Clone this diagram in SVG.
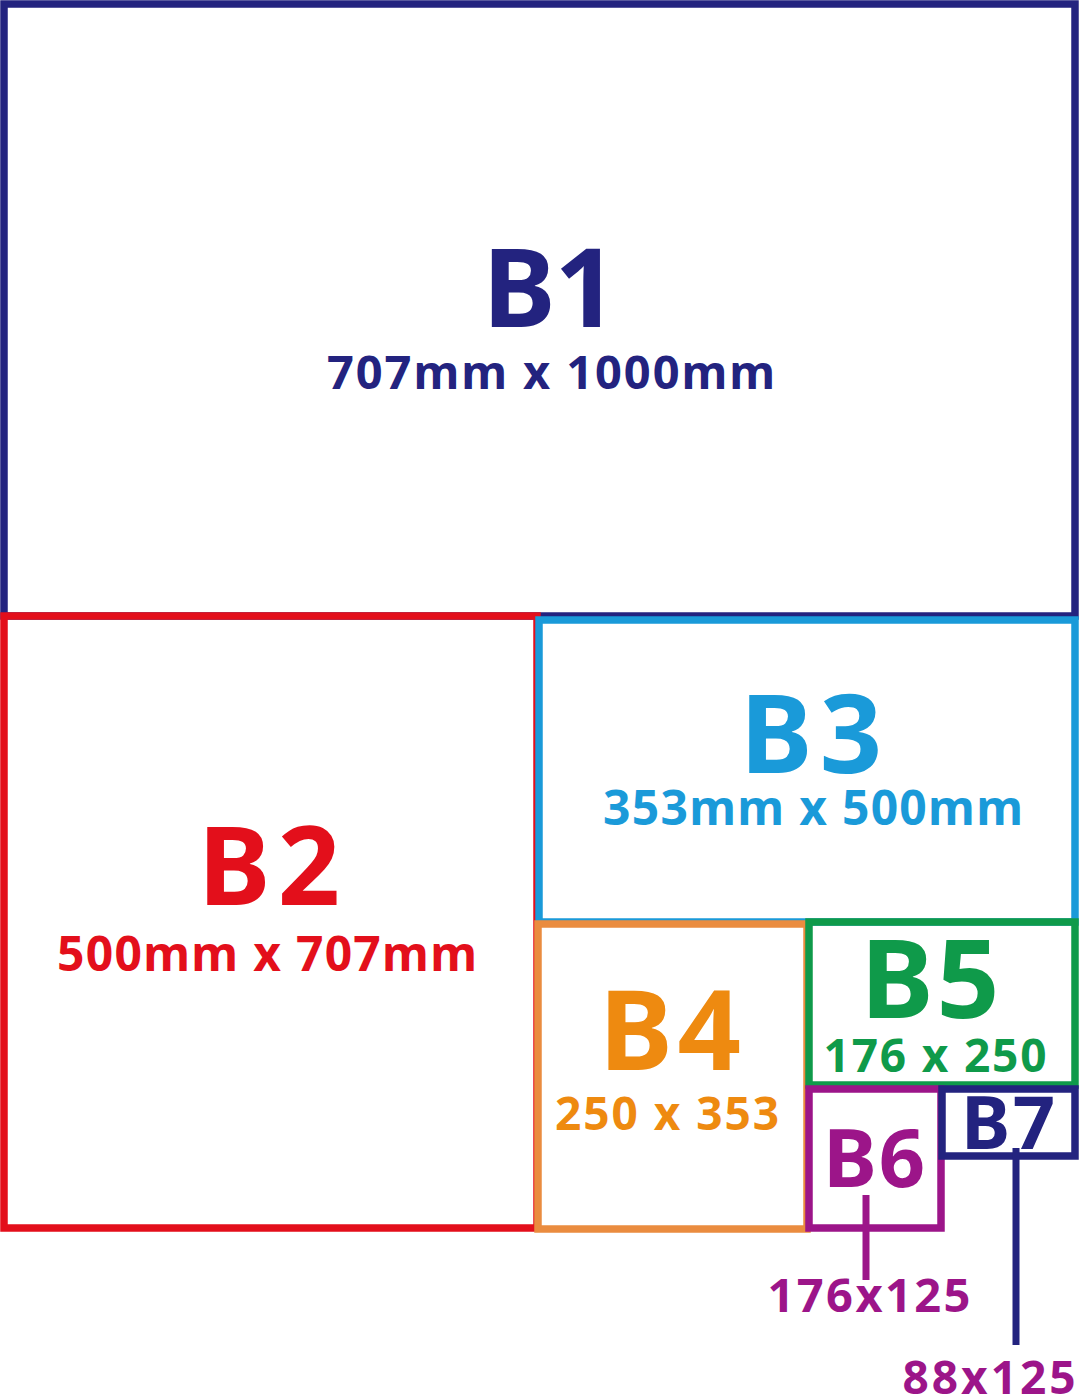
<svg xmlns="http://www.w3.org/2000/svg" width="1080" height="1400" viewBox="0 0 1080 1400">
<style>
rect{fill:none;stroke-width:7.5}
text{font-family:"Noto Sans","Open Sans","DejaVu Sans",sans-serif;font-weight:bold;text-anchor:middle}
.lead{stroke-width:7;fill:none}
</style>
<rect x="0" y="0" width="1080" height="1400" fill="#ffffff" style="fill:#ffffff;stroke:none"/>
<g id="B1">
<rect x="4" y="4" width="1071" height="612" stroke="#23237f"/>
<text x="550" y="327" font-size="110" fill="#23237f" textLength="135" lengthAdjust="spacing">B1</text>
<text x="551" y="389" font-size="47" fill="#23237f" textLength="448" lengthAdjust="spacing">707mm x 1000mm</text>
</g>
<g id="B2">
<rect x="4" y="616" width="533" height="612" stroke="#e30f1b"/>
<text x="269" y="905" font-size="109" fill="#e30f1b" textLength="142" lengthAdjust="spacing">B2</text>
<text x="267" y="971" font-size="48" fill="#e30f1b" textLength="420" lengthAdjust="spacing">500mm x 707mm</text>
</g>
<g id="B3">
<rect x="539" y="620" width="536" height="302" stroke="#1a9ad9"/>
<text x="811" y="773" font-size="109" fill="#1a9ad9" textLength="142" lengthAdjust="spacing">B3</text>
<text x="813" y="825" font-size="48" fill="#1a9ad9" textLength="420" lengthAdjust="spacing">353mm x 500mm</text>
</g>
<g id="B4">
<rect x="538" y="924" width="269" height="305" stroke="#ea8c3f"/>
<text x="670" y="1070" font-size="111" fill="#ee8a10" textLength="142" lengthAdjust="spacing">B4</text>
<text x="667" y="1130" font-size="46" fill="#ee8a10" textLength="224" lengthAdjust="spacing">250 x 353</text>
</g>
<g id="B5">
<rect x="809" y="922" width="266" height="163" stroke="#0f9a4a"/>
<text x="930" y="1018" font-size="110" fill="#0f9a4a" textLength="139" lengthAdjust="spacing">B5</text>
<text x="935" y="1072" font-size="46" fill="#0f9a4a" textLength="223" lengthAdjust="spacing">176 x 250</text>
</g>
<g id="B6">
<rect x="809" y="1089" width="132" height="139" stroke="#9c1589"/>
<text x="874" y="1187" font-size="81" fill="#9c1589" textLength="102" lengthAdjust="spacing">B6</text>
</g>
<g id="B7">
<rect x="942" y="1089" width="133" height="67" stroke="#23237f"/>
<text x="1008" y="1149" font-size="74" fill="#23237f" textLength="94" lengthAdjust="spacing">B7</text>
</g>
<g id="connectors">
<line class="lead" x1="866" y1="1195" x2="866" y2="1280" stroke="#9c1589"/>
<line class="lead" x1="1016" y1="1148" x2="1016" y2="1345" stroke="#23237f"/>
</g>
<g id="labels">
<text x="869" y="1312" font-size="47" fill="#9c1589" textLength="203" lengthAdjust="spacing">176x125</text>
<text x="989" y="1394" font-size="46" fill="#9c1589" textLength="173" lengthAdjust="spacing">88x125</text>
</g>
</svg>
